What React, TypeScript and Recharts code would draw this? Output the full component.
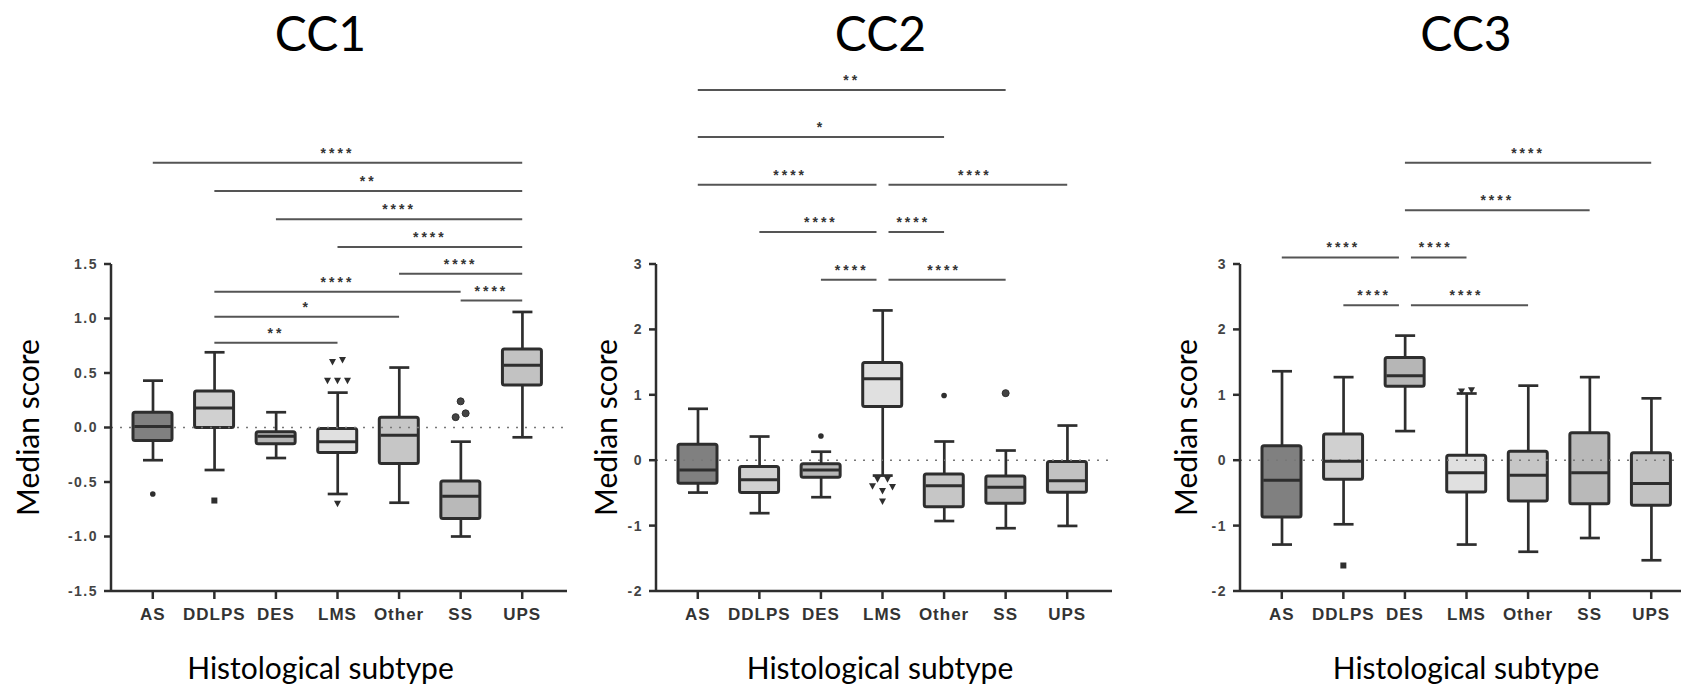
import { ComposedChart, Bar, Scatter, XAxis, YAxis, ReferenceLine } from "recharts";

const subtypes = ["AS", "DDLPS", "DES", "LMS", "Other", "SS", "UPS"];

// CC1 box statistics
const cc1Low = [-0.30, -0.39, -0.28, -0.61, -0.69, -1.00, -0.09];
const cc1Q1 = [-0.12, 0.00, -0.15, -0.23, -0.33, -0.835, 0.39];
const cc1Median = [0.01, 0.18, -0.08, -0.13, -0.07, -0.63, 0.57];
const cc1Q3 = [0.14, 0.335, -0.04, -0.01, 0.095, -0.49, 0.72];
const cc1High = [0.43, 0.69, 0.14, 0.32, 0.55, -0.13, 1.06];
const cc1Outliers = [[-0.61], [-0.67], [], [0.43, 0.43, 0.43, 0.60, 0.62, -0.70], [], [0.24, 0.095, 0.13], []];
const cc1Comparisons: [string, string, string, number][] = [
    ["AS", "UPS", "****", 2.43],
    ["DDLPS", "UPS", "**", 2.17],
    ["DES", "UPS", "****", 1.91],
    ["LMS", "UPS", "****", 1.655],
    ["Other", "UPS", "****", 1.41],
    ["DDLPS", "SS", "****", 1.245],
    ["SS", "UPS", "****", 1.165],
    ["DDLPS", "Other", "*", 1.015],
    ["DDLPS", "LMS", "**", 0.777],
];

// CC2 box statistics
const cc2Low = [-0.495, -0.81, -0.566, -0.235, -0.93, -1.04, -1.005];
const cc2Q1 = [-0.352, -0.495, -0.26, 0.82, -0.71, -0.66, -0.49];
const cc2Median = [-0.148, -0.30, -0.148, 1.245, -0.39, -0.413, -0.316];
const cc2Q3 = [0.245, -0.097, -0.056, 1.495, -0.21, -0.24, -0.02];
const cc2High = [0.786, 0.362, 0.13, 2.29, 0.286, 0.148, 0.53];
const cc2Outliers = [[], [], [0.37], [-0.29, -0.29, -0.40, -0.47, -0.41, -0.63], [0.99], [1.025], []];
const cc2Comparisons: [string, string, string, number][] = [
    ["AS", "SS", "**", 5.66],
    ["AS", "Other", "*", 4.94],
    ["AS", "LMS", "****", 4.21],
    ["LMS", "UPS", "****", 4.21],
    ["DDLPS", "LMS", "****", 3.49],
    ["LMS", "Other", "****", 3.49],
    ["DES", "LMS", "****", 2.76],
    ["LMS", "SS", "****", 2.76],
];

// CC3 box statistics
const cc3Low = [-1.29, -0.98, 0.445, -1.29, -1.40, -1.19, -1.53];
const cc3Q1 = [-0.87, -0.29, 1.13, -0.486, -0.624, -0.665, -0.69];
const cc3Median = [-0.307, -0.015, 1.29, -0.19, -0.23, -0.19, -0.358];
const cc3Q3 = [0.22, 0.40, 1.57, 0.077, 0.138, 0.42, 0.113];
const cc3High = [1.36, 1.27, 1.905, 1.02, 1.14, 1.27, 0.946];
const cc3Outliers = [[], [-1.61], [], [1.05, 1.07], [], [], []];
const cc3Comparisons: [string, string, string, number][] = [
    ["DES", "UPS", "****", 4.55],
    ["DES", "SS", "****", 3.82],
    ["AS", "DES", "****", 3.10],
    ["DES", "LMS", "****", 3.10],
    ["DDLPS", "DES", "****", 2.37],
    ["DES", "Other", "****", 2.37],
];

const cc1Ticks = [-1.5, -1, -0.5, 0, 0.5, 1, 1.5];
const cc23Ticks = [-2, -1, 0, 1, 2, 3];

const boxFill: Record<string, string> = {
    AS: "#808080",
    DDLPS: "#d0d0d0",
    DES: "#b6b6b6",
    LMS: "#e0e0e0",
    Other: "#c6c6c6",
    SS: "#b9b9b9",
    UPS: "#c2c2c2",
};
const outlierSymbol: Record<string, string> = {
    AS: "dot", DDLPS: "square", DES: "dot", LMS: "triangle", Other: "dot", SS: "circle", UPS: "dot",
};

const INK = "#2e2e2e";
const BOX_W = 39;
const CAP_W = 20;
const SPREAD = 10;
const LABEL_FONT = "Lato, 'Open Sans', sans-serif";
const TICK_FONT = "'Liberation Sans', Arial, sans-serif";

function buildRows(low: number[], q1: number[], med: number[], q3: number[], high: number[], outliers: number[][], span: number) {
    return subtypes.map((name, i) => {
        const outs = outliers[i];
        // spread points that would overlap horizontally
        const dx = outs.map(() => 0);
        const order = outs.map((v, j) => j).sort((a, b) => outs[a] - outs[b]);
        const groups: number[][] = [];
        order.forEach(j => {
            const g = groups[groups.length - 1];
            if (g && Math.abs(outs[g[g.length - 1]] - outs[j]) < span * 0.02) g.push(j);
            else groups.push([j]);
        });
        groups.forEach(g => {
            g.sort((a, b) => a - b).forEach((j, r) => { dx[j] = (r - (g.length - 1) / 2) * SPREAD; });
        });
        const row: any = { name, whisker: [low[i], high[i]], box: [q1[i], q3[i]], median: med[i], outDx: dx };
        for (let k = 0; k < 6; k++) row[`o${k}`] = outs[k] ?? null;
        return row;
    });
}

const WhiskerShape = (p: any) => {
    const cx = p.x + p.width / 2;
    return (
        <g stroke={INK} strokeWidth={2.7}>
            <line x1={cx} x2={cx} y1={p.y} y2={p.y + p.height} />
            <line x1={p.x} x2={p.x + p.width} y1={p.y} y2={p.y} />
            <line x1={p.x} x2={p.x + p.width} y1={p.y + p.height} y2={p.y + p.height} />
        </g>
    );
};

const BoxShape = (p: any) => (
    <rect x={p.x} y={p.y} width={p.width} height={p.height} rx={2}
        fill={boxFill[p.payload.name]} stroke={INK} strokeWidth={3} />
);

const MedianShape = (p: any) => (
    <line x1={p.cx - BOX_W / 2 + 1} x2={p.cx + BOX_W / 2 - 1} y1={p.cy} y2={p.cy} stroke={INK} strokeWidth={3} />
);

const outlierShape = (k: number) => (p: any) => {
    const { cx, cy, payload } = p;
    if (cx == null || cy == null || Number.isNaN(cy)) return <g />;
    const x = cx + (payload.outDx[k] || 0);
    const kind = outlierSymbol[payload.name];
    if (kind === "square") return <rect x={x - 3} y={cy - 3} width={6} height={6} fill={INK} />;
    if (kind === "triangle") return <path d={`M${x - 3.5},${cy - 3} L${x + 3.5},${cy - 3} L${x},${cy + 3.5} Z`} fill={INK} />;
    if (kind === "circle") return <circle cx={x} cy={cy} r={3.5} fill="#444" stroke={INK} strokeWidth={1} />;
    return <circle cx={x} cy={cy} r={2.8} fill={INK} />;
};

const starLabel = (text: string) => (p: any) => {
    const vb = p.viewBox || { x: 0, y: 0, width: 0, height: 0 };
    return (
        <text x={vb.x + vb.width / 2} y={vb.y - 5} textAnchor="middle" fill="#333"
            style={{ fontFamily: TICK_FONT, fontSize: 14, fontWeight: 700, letterSpacing: 3 }}>{text}</text>
    );
};

const sigLineShape = (insetStart: number, insetEnd: number) => (p: any) => (
    <line x1={p.x1 + insetStart} x2={p.x2 - insetEnd} y1={p.y1} y2={p.y2} stroke="#555" strokeWidth={2} />
);

const xLabel = (shift: number) => (p: any) => {
    const vb = p.viewBox || { x: 0, y: 0, width: 0, height: 0 };
    return (
        <text x={vb.x + vb.width / 2 + shift} y={vb.y + 88} textAnchor="middle" fill="#000"
            style={{ fontFamily: LABEL_FONT, fontSize: 30 }}>Histological subtype</text>
    );
};

const yLabel = (gap: number) => (p: any) => {
    const vb = p.viewBox || { x: 0, y: 0, width: 0, height: 0 };
    const x = vb.x + vb.width - gap;
    const y = vb.y + vb.height / 2;
    return (
        <text x={x} y={y} transform={`rotate(-90 ${x} ${y})`} textAnchor="middle" fill="#000"
            style={{ fontFamily: LABEL_FONT, fontSize: 30 }}>Median score</text>
    );
};

interface PanelProps {
    title: string;
    left: number;
    shift: number;
    yGap: number;
    rows: any[];
    comparisons: [string, string, string, number][];
    domain: [number, number];
    ticks: number[];
    decimals: number;
}

function Panel({ title, left, shift, yGap, rows, comparisons, domain, ticks, decimals }: PanelProps) {
    const pad = { left: 11, right: 14 };
    return (
        <div style={{ position: "absolute", left, top: 0, width: 600, height: 686 }}>
            <div style={{
                position: "absolute", left: 111 + 228 + shift - 100, top: 9, width: 200, textAlign: "center",
                fontFamily: LABEL_FONT, fontSize: 48, lineHeight: "48px", color: "#000",
            }}>{title}</div>
            <ComposedChart width={600} height={686} data={rows} margin={{ top: 264, right: 33, bottom: 35, left: 61 }}>
                <XAxis dataKey="name" interval={0} padding={pad} height={60} tickSize={8} tickMargin={9}
                    allowDuplicatedCategory={false}
                    axisLine={{ stroke: INK, strokeWidth: 2.5 }} tickLine={{ stroke: INK, strokeWidth: 2.5 }}
                    tick={{ fill: "#333", fontSize: 17, fontWeight: 700, fontFamily: TICK_FONT, letterSpacing: 1 }}
                    label={{ content: xLabel(shift) }} />
                <XAxis xAxisId="w" dataKey="name" hide padding={pad} />
                <YAxis domain={domain} ticks={ticks} width={50} tickSize={7} tickMargin={6} interval={0}
                    tickFormatter={(v: number) => v.toFixed(decimals)}
                    axisLine={{ stroke: INK, strokeWidth: 2.5 }} tickLine={{ stroke: INK, strokeWidth: 2.5 }}
                    tick={{ fill: "#444", fontSize: 14, fontWeight: 700, fontFamily: TICK_FONT, letterSpacing: 1.5 }}
                    label={{ content: yLabel(yGap) }} />
                <Bar xAxisId="w" dataKey="whisker" barSize={CAP_W} shape={WhiskerShape} isAnimationActive={false} />
                <Bar dataKey="box" barSize={BOX_W} shape={BoxShape} isAnimationActive={false} />
                <ReferenceLine y={0} stroke="#777" strokeWidth={1.5} strokeDasharray="2 7" />
                <Scatter dataKey="median" shape={MedianShape} isAnimationActive={false} />
                {[0, 1, 2, 3, 4, 5].map(k => (
                    <Scatter key={k} dataKey={`o${k}`} shape={outlierShape(k)} isAnimationActive={false} />
                ))}
                {comparisons.map(([from, to, stars, level], i) => {
                    const shared = (cat: string) => comparisons.some((c, j) => j !== i && c[3] === level && (c[0] === cat || c[1] === cat));
                    return (
                        <ReferenceLine key={i} ifOverflow="visible"
                            segment={[{ x: from, y: level }, { x: to, y: level }]}
                            shape={sigLineShape(shared(from) ? 6 : 0, shared(to) ? 6 : 0)}
                            label={{ content: starLabel(stars) }} />
                    );
                })}
            </ComposedChart>
        </div>
    );
}

export default function App() {
    const cc1Rows = buildRows(cc1Low, cc1Q1, cc1Median, cc1Q3, cc1High, cc1Outliers, 3);
    const cc2Rows = buildRows(cc2Low, cc2Q1, cc2Median, cc2Q3, cc2High, cc2Outliers, 5);
    const cc3Rows = buildRows(cc3Low, cc3Q1, cc3Median, cc3Q3, cc3High, cc3Outliers, 5);
    return (
        <div style={{ position: "absolute", left: 0, top: 0, width: 1681, height: 686, overflow: "hidden", background: "#fff" }}>
            <Panel title="CC1" left={0} shift={-18.5} yGap={72} rows={cc1Rows} comparisons={cc1Comparisons}
                domain={[-1.5, 1.5]} ticks={cc1Ticks} decimals={1} />
            <Panel title="CC2" left={545.4} shift={-4} yGap={39} rows={cc2Rows} comparisons={cc2Comparisons}
                domain={[-2, 3]} ticks={cc23Ticks} decimals={0} />
            <Panel title="CC3" left={1129} shift={-2} yGap={43} rows={cc3Rows} comparisons={cc3Comparisons}
                domain={[-2, 3]} ticks={cc23Ticks} decimals={0} />
        </div>
    );
}
